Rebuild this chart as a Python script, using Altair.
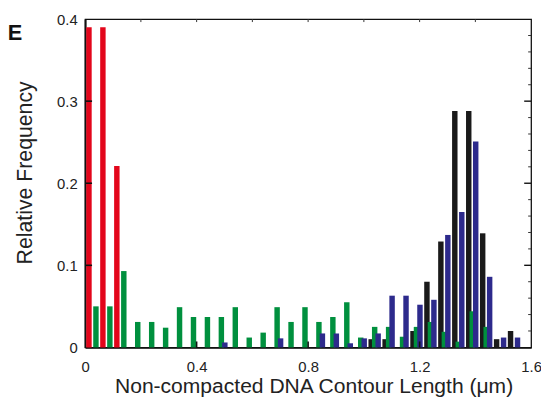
import altair as alt
import pandas as pd

# ---- data (relative frequency per 0.05 um bin) ----
BIN_WIDTH = 0.05
FIRST_BIN_CENTER = 0.0325
series_names = ["red", "black", "green", "blue"]
series_colors = ["#E3061B", "#1A1A1A", "#00903E", "#2D2A8C"]
group_offsets = [-0.01875, -0.00625, 0.00625, 0.01875]

red = [0.390, 0.390, 0.221]
black = [0] * 20 + [0.010, 0.010, 0, 0.020, 0.080, 0.129, 0.288, 0.288, 0.139, 0.010, 0.020]
green = [0.050, 0.050, 0.093, 0.031, 0.031, 0.024, 0.049, 0.037, 0.037, 0.037,
         0.049, 0.012, 0.018, 0.049, 0.031, 0.049, 0.031, 0.037, 0.055, 0.012,
         0.025, 0.025, 0.013, 0.025, 0.031, 0.019, 0.007, 0.044, 0.025]
blue = [0] * 9 + [0.006, 0, 0, 0, 0.011, 0, 0, 0.017, 0.017, 0.005, 0.011,
                  0.017, 0.063, 0.063, 0.052, 0.058, 0.137, 0.165, 0.251, 0.086,
                  0.012, 0.012]

x_ticks = [0, 0.4, 0.8, 1.2, 1.6]
y_ticks = [0, 0.1, 0.2, 0.3, 0.4]
inner_x_ticks = [0.4, 0.8, 1.2]
inner_y_ticks = [0.1, 0.2, 0.3]
minor_y_ticks = [0.02, 0.04, 0.06, 0.08, 0.12, 0.14, 0.16, 0.18,
                 0.22, 0.24, 0.26, 0.28, 0.32, 0.34, 0.36, 0.38]
top_ticks = [0.2, 0.4, 0.6, 0.8, 1.0, 1.2, 1.4]

rows = []
for s, vals in enumerate([red, black, green, blue]):
    for k, v in enumerate(vals):
        if v > 0:
            rows.append({
                "series": series_names[s],
                "color": series_colors[s],
                "x": FIRST_BIN_CENTER + BIN_WIDTH * k + group_offsets[s],
                "y": v,
            })
bars_df = pd.DataFrame(rows)

W, H = 451, 332
FONT = "Liberation Sans"
xscale = alt.Scale(domain=[0, 1.6], nice=False, zero=False, padding=0)
yscale = alt.Scale(domain=[0, 0.4], nice=False, padding=0)

xaxis = alt.Axis(values=x_ticks, format="~g", grid=False, ticks=False, tickSize=0,
                 labelPadding=12, labelFontSize=15, labelFont=FONT, labelColor="#222",
                 labelFlush=False, labelOverlap=False,
                 domainColor="#111", domainWidth=2,
                 title="Non-compacted DNA Contour Length (\u03bcm)",
                 titleFont=FONT, titleFontSize=21.3, titleFontWeight="normal",
                 titleColor="#222", titleX=231, titleY=40, titleBaseline="middle",
                 titleAlign="center")
yaxis = alt.Axis(values=y_ticks, format="~g", grid=False, ticks=False, tickSize=0,
                 labelPadding=8, labelFontSize=15, labelFont=FONT, labelColor="#222",
                 labelFlush=False, labelOverlap=False,
                 domainColor="#111", domainWidth=2,
                 title="Relative Frequency", titleFont=FONT, titleFontSize=21.5,
                 titleFontWeight="normal", titleColor="#222", titleAngle=-90,
                 titleX=-60, titleY=155, titleBaseline="middle", titleAlign="center")

X = lambda: alt.X("x:Q", scale=xscale, axis=xaxis)
Y = lambda: alt.Y("y:Q", scale=yscale, axis=yaxis, stack=None)

bars = alt.Chart(bars_df).mark_bar(size=5.5).encode(
    x=X(), y=Y(), color=alt.Color("color:N", scale=None),
)

bx = pd.DataFrame({"x": inner_x_ticks})
by = pd.DataFrame({"y": inner_y_ticks})
bmin = pd.DataFrame({"y": minor_y_ticks})
btop = pd.DataFrame({"x": top_ticks})

tick_bottom = alt.Chart(bx).mark_rule(color="#111", strokeWidth=1.6).encode(
    x=X(), y=alt.value(H), y2=alt.value(H - 6))
tick_left = alt.Chart(by).mark_rule(color="#111", strokeWidth=1.6).encode(
    y=Y(), x=alt.value(0), x2=alt.value(7))
tick_right = alt.Chart(by).mark_rule(color="#111", strokeWidth=1.4).encode(
    y=Y(), x=alt.value(W), x2=alt.value(W - 7))
tick_right_minor = alt.Chart(bmin).mark_rule(color="#333", strokeWidth=1).encode(
    y=Y(), x=alt.value(W), x2=alt.value(W - 3))
tick_top = alt.Chart(btop).mark_rule(color="#333", strokeWidth=1).encode(
    x=X(), y=alt.value(0), y2=alt.value(3))

panel = alt.Chart(pd.DataFrame({"t": ["E"]})).mark_text(
    font=FONT, fontSize=22, fontWeight="bold", color="#111", align="center", baseline="middle"
).encode(text="t:N", x=alt.value(-71), y=alt.value(14))

chart = alt.layer(bars, tick_bottom, tick_left, tick_right, tick_right_minor, tick_top, panel).properties(
    width=W, height=H,
    autosize=alt.AutoSizeParams(type="none"),
    padding={"left": 78, "top": 9, "right": 10, "bottom": 52},
).configure_view(stroke="#111", strokeWidth=1.3)

chart.save("out.html", embed_options={"renderer": "svg", "actions": False})
